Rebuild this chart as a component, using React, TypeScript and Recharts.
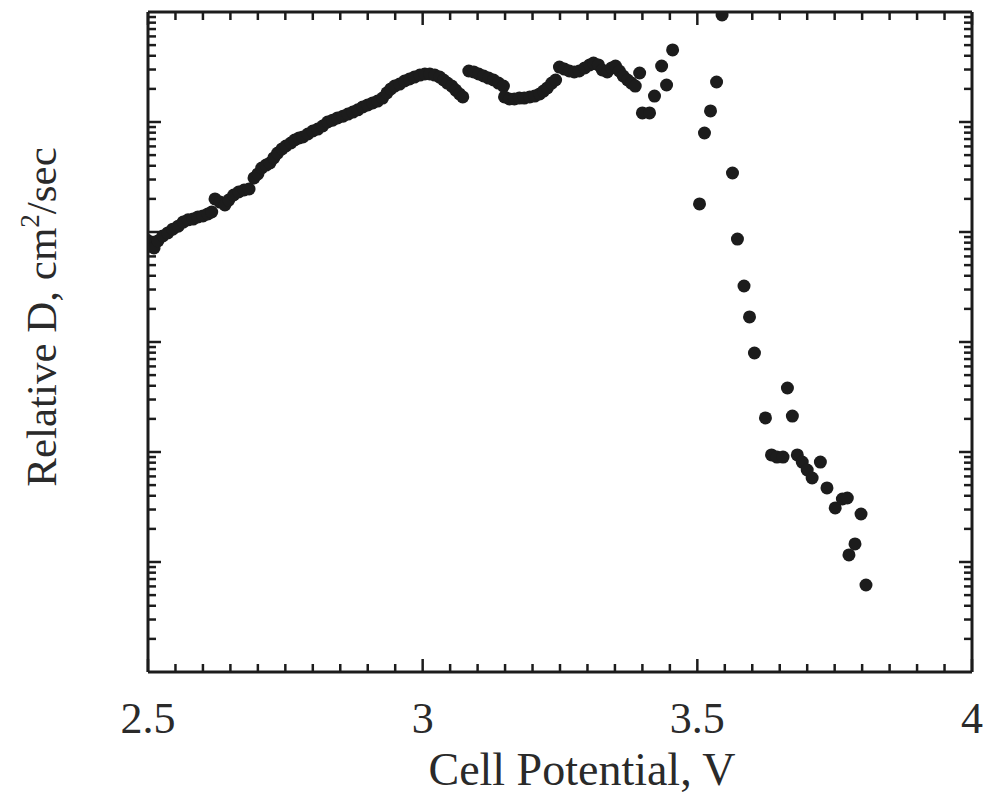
import React from 'react';
import { ScatterChart, Scatter, XAxis, YAxis } from 'recharts';

// Cell potential (V) of each measured point
const potential = [
  2.498, 2.504, 2.511, 2.518, 2.527, 2.536, 2.545, 2.555, 2.564, 2.573, 2.582, 2.591, 2.6, 2.609, 2.616,
  2.622, 2.631, 2.64, 2.647, 2.656, 2.665, 2.675, 2.684,
  2.693, 2.7, 2.707, 2.715, 2.722, 2.729, 2.736, 2.744, 2.751, 2.76, 2.767, 2.775,
  2.782, 2.791, 2.8, 2.809, 2.818, 2.827, 2.836, 2.845, 2.855, 2.864, 2.873, 2.882, 2.891, 2.9, 2.909, 2.918,
  2.927, 2.935, 2.942, 2.949, 2.958, 2.967, 2.976, 2.985, 2.995, 3.004, 3.013, 3.022, 3.031, 3.038, 3.045,
  3.053, 3.06, 3.067, 3.073,
  3.084, 3.093, 3.102, 3.111, 3.12, 3.129, 3.138, 3.147,
  3.149, 3.158, 3.167, 3.176, 3.185, 3.195, 3.204, 3.213, 3.22, 3.227, 3.235, 3.242,
  3.249, 3.258, 3.267, 3.276, 3.285, 3.295, 3.304, 3.311, 3.32, 3.327, 3.336, 3.344, 3.351, 3.358, 3.365,
  3.373, 3.38, 3.387,
  3.395, 3.4, 3.413, 3.422, 3.435, 3.444, 3.455,
  3.504, 3.513, 3.524, 3.535, 3.545, 3.564, 3.573, 3.585, 3.595, 3.604,
  3.624, 3.635, 3.645, 3.656, 3.664, 3.673, 3.682, 3.691, 3.7, 3.709,
  3.724, 3.736, 3.751, 3.764, 3.773, 3.776, 3.787, 3.798, 3.807,
];

// Relative diffusion coefficient (cm^2/sec, relative units)
const relativeD = [
  8.45e-3, 7.46e-3, 7.16e-3, 8.28e-3, 9.2e-3, 9.8e-3, 1.06e-2, 1.13e-2, 1.23e-2, 1.29e-2, 1.31e-2, 1.37e-2, 1.4e-2, 1.46e-2, 1.52e-2,
  2.0e-2, 1.87e-2, 1.76e-2, 1.95e-2, 2.17e-2, 2.31e-2, 2.41e-2, 2.46e-2,
  3.1e-2, 3.37e-2, 3.82e-2, 4.06e-2, 4.24e-2, 4.71e-2, 5.22e-2, 5.69e-2, 6.05e-2, 6.44e-2, 6.86e-2, 7.16e-2,
  7.31e-2, 7.78e-2, 8.28e-2, 8.63e-2, 9.2e-2, 0.1, 0.104, 0.109, 0.113, 0.118, 0.123, 0.129, 0.137, 0.143, 0.149, 0.155,
  0.165, 0.184, 0.2, 0.212, 0.221, 0.236, 0.246, 0.256, 0.267, 0.273, 0.273, 0.267, 0.256, 0.241, 0.226,
  0.212, 0.195, 0.18, 0.169,
  0.291, 0.285, 0.273, 0.262, 0.251, 0.241, 0.226, 0.212,
  0.169, 0.162, 0.162, 0.165, 0.165, 0.169, 0.172, 0.18, 0.191, 0.204, 0.226, 0.241,
  0.316, 0.303, 0.291, 0.285, 0.291, 0.31, 0.33, 0.344, 0.33, 0.297, 0.285, 0.31, 0.323, 0.291, 0.262,
  0.241, 0.226, 0.212,
  0.279, 0.121, 0.121, 0.172, 0.323, 0.217, 0.452,
  1.8e-2, 7.94e-2, 0.126, 0.231, 0.94, 3.44e-2, 8.63e-3, 3.23e-3, 1.69e-3, 7.94e-4,
  2.04e-4, 9.4e-5, 9.0e-5, 9.0e-5, 3.82e-4, 2.12e-4, 9.4e-5, 8.1e-5, 6.86e-5, 5.8e-5,
  8.1e-5, 4.71e-5, 3.1e-5, 3.74e-5, 3.82e-5, 1.16e-5, 1.46e-5, 2.73e-5, 6.18e-6,
];

const xMajorTicks = [2.5, 3, 3.5, 4];
const xMinorTicks = [
  2.55, 2.6, 2.65, 2.7, 2.75, 2.8, 2.85, 2.9, 2.95,
  3.05, 3.1, 3.15, 3.2, 3.25, 3.3, 3.35, 3.4, 3.45,
  3.55, 3.6, 3.65, 3.7, 3.75, 3.8, 3.85, 3.9, 3.95,
];
const yMajorTicks = [1e-5, 1e-4, 1e-3, 1e-2, 1e-1];
const yMinorTicks = [
  2e-6, 3e-6, 4e-6, 5e-6, 6e-6, 7e-6, 8e-6, 9e-6,
  2e-5, 3e-5, 4e-5, 5e-5, 6e-5, 7e-5, 8e-5, 9e-5,
  2e-4, 3e-4, 4e-4, 5e-4, 6e-4, 7e-4, 8e-4, 9e-4,
  2e-3, 3e-3, 4e-3, 5e-3, 6e-3, 7e-3, 8e-3, 9e-3,
  2e-2, 3e-2, 4e-2, 5e-2, 6e-2, 7e-2, 8e-2, 9e-2,
  2e-1, 3e-1, 4e-1, 5e-1, 6e-1, 7e-1, 8e-1, 9e-1,
];
const xDomain: [number, number] = [2.5, 4];
const yDomain: [number, number] = [1e-6, 1];

const data = potential.map((v, i) => ({ v, d: relativeD[i] }));

const FONT = '"Liberation Serif", "Times New Roman", Times, serif';
const INK = '#1c1c1c';
const TEXT = '#2a2a2a';
const MINOR = 7;
const MAJOR = 13;
const TICK_LINE = { stroke: INK, strokeWidth: 2.5 };
const FRAME = { stroke: INK, strokeWidth: 3 };

const Dot = (p: any) => <circle cx={p.cx} cy={p.cy} r={6.5} fill={INK} />;
const NoDot = () => <g />;
const NoTickLabel = () => <g />;

const XTitle = (p: any) => {
  const vb = p.viewBox || {};
  return (
    <text
      x={vb.x + vb.width / 2 + 22}
      y={vb.y + 113}
      textAnchor="middle"
      fontFamily={FONT}
      fontSize={46}
      fill={TEXT}
    >
      Cell Potential, V
    </text>
  );
};

const YTitle = () => {
  const cx = 48;
  const cy = 309;
  return (
    <text
      x={cx}
      y={cy}
      transform={`rotate(-90, ${cx}, ${cy})`}
      textAnchor="middle"
      fontFamily={FONT}
      fontSize={43}
      fill={TEXT}
    >
      Relative D, cm
      <tspan dy={-17} fontSize={27}>2</tspan>
      <tspan dy={17}>/sec</tspan>
    </text>
  );
};

// major axes first so the frame sits exactly on the plot edge
const xTickAxes = [
  { id: 'xbMajor', orientation: 'bottom', ticks: xMajorTicks, size: MAJOR, frame: true },
  { id: 'xbMinor', orientation: 'bottom', ticks: xMinorTicks, size: MINOR, frame: false },
  { id: 'xtMajor', orientation: 'top', ticks: xMajorTicks, size: MAJOR, frame: true },
  { id: 'xtMinor', orientation: 'top', ticks: xMinorTicks, size: MINOR, frame: false },
];
const yTickAxes = [
  { id: 'ylMajor', orientation: 'left', ticks: yMajorTicks, size: MAJOR, frame: true },
  { id: 'ylMinor', orientation: 'left', ticks: yMinorTicks, size: MINOR, frame: false },
  { id: 'yrMajor', orientation: 'right', ticks: yMajorTicks, size: MAJOR, frame: true },
  { id: 'yrMinor', orientation: 'right', ticks: yMinorTicks, size: MINOR, frame: false },
];

export default function App() {
  return (
    <ScatterChart width={978} height={790} data={data} margin={{ top: 4, right: 14, bottom: 0, left: 0 }}>
      {/* main axes (labels) */}
      <XAxis
        xAxisId="x"
        dataKey="v"
        type="number"
        domain={xDomain}
        allowDataOverflow
        ticks={xMajorTicks}
        interval={0}
        tickLine={false}
        axisLine={false}
        tickSize={0}
        tickMargin={30}
        height={126}
        tick={{ fontSize: 44, fill: TEXT, fontFamily: FONT }}
        label={{ value: 'Cell Potential, V', content: XTitle }}
      />
      <YAxis
        yAxisId="y"
        dataKey="d"
        type="number"
        scale="log"
        domain={yDomain}
        allowDataOverflow
        width={140}
        tick={false}
        tickLine={false}
        axisLine={false}
        label={{ value: 'Relative D', content: YTitle }}
      />
      {xTickAxes.map((a) => (
        <XAxis
          key={a.id}
          xAxisId={a.id}
          dataKey="v"
          orientation={a.orientation as any}
          type="number"
          domain={xDomain}
          allowDataOverflow
          ticks={a.ticks}
          interval={0}
          mirror
          height={1}
          tick={NoTickLabel}
          tickSize={a.size}
          tickLine={TICK_LINE}
          axisLine={a.frame ? FRAME : false}
        />
      ))}
      {yTickAxes.map((a) => (
        <YAxis
          key={a.id}
          yAxisId={a.id}
          dataKey="d"
          orientation={a.orientation as any}
          type="number"
          scale="log"
          domain={yDomain}
          allowDataOverflow
          ticks={a.ticks}
          interval={0}
          mirror
          width={1}
          tick={NoTickLabel}
          tickSize={a.size}
          tickLine={TICK_LINE}
          axisLine={a.frame ? FRAME : false}
        />
      ))}
      {/* invisible bindings so every tick axis gets a scale */}
      {xTickAxes.map((a) => (
        <Scatter key={'s' + a.id} data={data} dataKey="d" xAxisId={a.id} yAxisId="y" shape={NoDot} isAnimationActive={false} />
      ))}
      {yTickAxes.map((a) => (
        <Scatter key={'s' + a.id} data={data} dataKey="d" xAxisId="x" yAxisId={a.id} shape={NoDot} isAnimationActive={false} />
      ))}
      <Scatter
        data={data}
        xAxisId="x"
        yAxisId="y"
        fill={INK}
        shape={Dot}
        isAnimationActive={false}
      />
    </ScatterChart>
  );
}
